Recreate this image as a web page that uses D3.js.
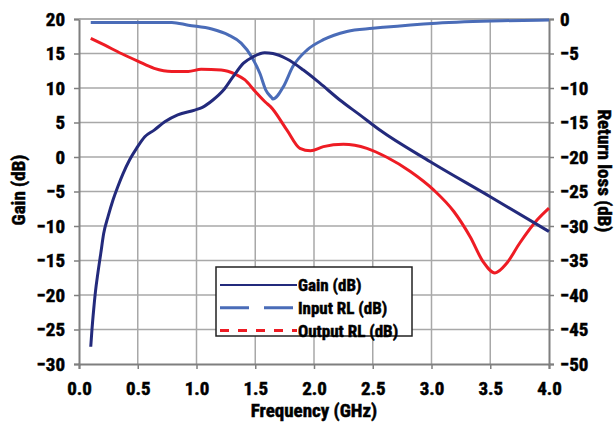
<!DOCTYPE html>
<html><head><meta charset="utf-8">
<script src="https://cdn.jsdelivr.net/npm/d3@7"></script>
<style>
html,body{margin:0;padding:0;background:#fff;}
svg text{font-family:"Liberation Sans Narrow","Arial Narrow","Roboto Condensed","Liberation Sans",sans-serif;font-weight:bold;fill:#000;stroke:#000;stroke-width:0.5px;}
</style></head>
<body><svg id="c" width="616" height="428"></svg>
<script>
// Gain (dB) - left axis
const gainFreq = [0.10,0.11,0.125,0.14,0.16,0.185,0.21,0.247,0.29,0.33,0.375,0.43,0.49,0.56,0.64,0.73,0.84,0.985,1.05,1.14,1.23,1.31,1.40,1.48,1.58,1.65,1.77,1.91,2.05,2.22,2.39,2.56,2.99,3.5,4.0];
const gainVal  = [-27.5,-25.1,-22.1,-19.5,-16.9,-14.0,-11.1,-8.65,-6.2,-4.3,-2.4,-0.43,1.26,2.94,3.9,5.1,6.1,6.8,7.2,8.26,9.7,11.6,13.6,14.5,15.1,15.0,14.2,12.6,10.7,8.26,6.1,3.9,-0.68,-5.75,-10.8];
// Input return loss (dB) - right axis
const inFreq = [0.10,0.79,0.93,1.13,1.27,1.38,1.47,1.54,1.59,1.64,1.65,1.74,1.82,1.94,2.08,2.28,2.5,2.59,3.04,3.6,4.0];
const inVal  = [-0.5,-0.5,-0.9,-1.45,-2.3,-3.5,-5.5,-7.9,-10.3,-11.4,-11.6,-9.8,-6.9,-4.5,-3.0,-1.8,-1.35,-1.2,-0.6,-0.25,-0.15];
// Output return loss (dB) - right axis
const outFreq = [0.10,0.22,0.36,0.50,0.64,0.79,0.93,1.04,1.21,1.33,1.41,1.50,1.59,1.63,1.77,1.88,1.97,2.08,2.25,2.45,2.62,2.82,3.02,3.19,3.33,3.44,3.54,3.64,3.75,3.90,4.0];
const outVal  = [-2.8,-3.8,-5.0,-6.1,-7.15,-7.6,-7.6,-7.3,-7.4,-8.0,-8.8,-10.5,-12.1,-12.7,-16.1,-18.74,-19.1,-18.5,-18.16,-18.74,-20.04,-22.1,-24.8,-27.9,-31.6,-35.2,-36.8,-35.4,-32.5,-29.1,-27.4];
const xTicks = [0,0.5,1,1.5,2,2.5,3,3.5,4];
const yTicks = [-30,-25,-20,-15,-10,-5,0,5,10,15,20];
const y2Ticks = [-50,-45,-40,-35,-30,-25,-20,-15,-10,-5,0];
const seriesNames = ["Gain (dB)","Input RL (dB)","Output RL (dB)"];

const L=79,R=549,T=19,B=364;
const svg=d3.select("#c");
const x=d3.scaleLinear().domain([0,4]).range([L,R]);
const y=d3.scaleLinear().domain([-30,20]).range([B,T]);
const y2=d3.scaleLinear().domain([-50,0]).range([B,T]);

// grid
const g=svg.append("g");
g.selectAll("line.v").data(xTicks.slice(1,-1)).join("line")
 .attr("x1",d=>x(d)).attr("x2",d=>x(d)).attr("y1",T).attr("y2",B)
 .attr("stroke","#a8a8a8").attr("stroke-width",1.5);
g.selectAll("line.h").data(yTicks.slice(1)).join("line")
 .attr("x1",L).attr("x2",R).attr("y1",d=>y(d)).attr("y2",d=>y(d))
 .attr("stroke","#a8a8a8").attr("stroke-width",1.5);

// axes
const fmt=d3.format(".1f");
const ax=svg.append("g").attr("transform",`translate(0,${B})`)
 .call(d3.axisBottom(x).tickValues(xTicks).tickFormat(fmt).tickSize(5).tickPadding(9));
const ay=svg.append("g").attr("transform",`translate(${L},0)`)
 .call(d3.axisLeft(y).tickValues(yTicks).tickFormat(d3.format("d")).tickSize(5).tickPadding(9));
const ay2=svg.append("g").attr("transform",`translate(${R},0)`)
 .call(d3.axisRight(y2).tickValues(y2Ticks).tickFormat(d3.format("d")).tickSize(5).tickPadding(6));
[ax,ay,ay2].forEach(a=>{
  a.select(".domain").attr("stroke","#7f7f7f").attr("stroke-width",2);
  a.selectAll(".tick line").attr("stroke","#7f7f7f").attr("stroke-width",1.5);
  a.selectAll(".tick text").style("font-size","19px").attr("fill","#000");
});
ax.selectAll(".tick text").attr("dy","0.9em");
svg.append("line").attr("x1",L).attr("x2",R).attr("y1",T).attr("y2",T).attr("stroke","#a8a8a8").attr("stroke-width",1.5);

// lines
const line=(xs,ys,sc)=>d3.line().x((d,i)=>x(xs[i])).y((d,i)=>sc(ys[i])).curve(d3.curveMonotoneX)(xs);
svg.append("path").attr("d",line(inFreq,inVal,y2)).attr("fill","none").attr("stroke","#4a6cb8").attr("stroke-width",3);
svg.append("path").attr("d",line(outFreq,outVal,y2)).attr("fill","none").attr("stroke","#ee1c24").attr("stroke-width",3);
svg.append("path").attr("d",line(gainFreq,gainVal,y)).attr("fill","none").attr("stroke","#232a7c").attr("stroke-width",3);

// titles
svg.append("text").attr("x",(L+R)/2).attr("y",417).attr("text-anchor","middle").style("font-size","19px").text("Frequency (GHz)");
svg.append("text").attr("transform","translate(25,190) rotate(-90)").attr("text-anchor","middle").style("font-size","19px").text("Gain (dB)");
svg.append("text").attr("transform","translate(598,171) rotate(90)").attr("text-anchor","middle").style("font-size","19px").text("Return loss (dB)");

// legend
const lg=svg.append("g");
lg.append("rect").attr("x",216).attr("y",267).attr("width",196).attr("height",69)
 .attr("fill","#fff").attr("stroke","#222").attr("stroke-width",1.5);
const legColors=["#232a7c","#4a6cb8","#ee1c24"];
const legDash=[null,"29,15","9,9"];
const legW=[2,3,3];
seriesNames.forEach((n,i)=>{
  const yy=285+i*22.8;
  lg.append("line").attr("x1",220).attr("x2",297).attr("y1",yy).attr("y2",yy)
   .attr("stroke",legColors[i]).attr("stroke-width",legW[i]).attr("stroke-dasharray",legDash[i]);
  lg.append("text").attr("x",298).attr("y",yy+6).style("font-size","17px").text(n);
});
</script></body></html>
